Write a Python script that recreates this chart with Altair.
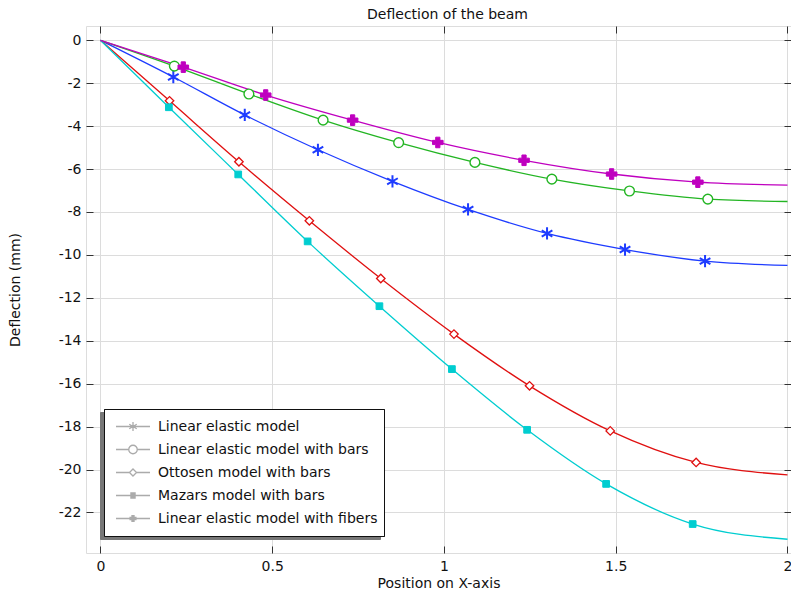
import altair as alt
import pandas as pd

FONT = "DejaVu Sans"
TEXT = "#111111"

SERIES = [
    "Linear elastic model",
    "Linear elastic model with bars",
    "Ottosen model with bars",
    "Mazars model with bars",
    "Linear elastic model with fibers",
]
COLORS = ["#1e3cff", "#23b523", "#e01010", "#00cdd0", "#bf00bf"]

# marker positions
blue_x = [0.212, 0.420, 0.633, 0.850, 1.070, 1.300, 1.527, 1.760]
blue_y = [-1.71, -3.48, -5.10, -6.57, -7.88, -9.00, -9.75, -10.29]
blue_end = -10.49

green_x = [0.215, 0.432, 0.648, 0.868, 1.090, 1.314, 1.540, 1.768]
green_y = [-1.20, -2.50, -3.72, -4.77, -5.69, -6.47, -7.02, -7.40]
green_end = -7.51

red_x = [0.201, 0.403, 0.608, 0.816, 1.029, 1.249, 1.484, 1.734]
red_y = [-2.82, -5.66, -8.41, -11.10, -13.69, -16.10, -18.20, -19.67]
red_end = -20.25

cyan_x = [0.199, 0.401, 0.603, 0.812, 1.023, 1.242, 1.472, 1.724]
cyan_y = [-3.12, -6.25, -9.37, -12.39, -15.32, -18.15, -20.67, -22.54]
cyan_end = -23.25

mag_x = [0.241, 0.481, 0.734, 0.982, 1.233, 1.488, 1.739]
mag_y = [-1.25, -2.55, -3.72, -4.76, -5.59, -6.23, -6.61]
mag_end = -6.75

X_START = 0.0
Y_START = 0.0
X_END = 2.0

X_TICKS = [0, 0.5, 1, 1.5, 2]
Y_TICKS = [0, -2, -4, -6, -8, -10, -12, -14, -16, -18, -20, -22]

groups = [
    (SERIES[0], blue_x, blue_y, blue_end),
    (SERIES[1], green_x, green_y, green_end),
    (SERIES[2], red_x, red_y, red_end),
    (SERIES[3], cyan_x, cyan_y, cyan_end),
    (SERIES[4], mag_x, mag_y, mag_end),
]

line_rows, mark_rows = [], []
for name, xs, ys, yend in groups:
    line_rows.append({"series": name, "x": X_START, "y": Y_START})
    for xv, yv in zip(xs, ys):
        line_rows.append({"series": name, "x": xv, "y": yv})
        mark_rows.append({"series": name, "x": xv, "y": yv})
    line_rows.append({"series": name, "x": X_END, "y": yend})

df_line = pd.DataFrame(line_rows)
df_mark = pd.DataFrame(mark_rows)

W, H = 705, 527
xscale = alt.Scale(domain=[-0.0422, 2.0102], nice=False, zero=False)
yscale = alt.Scale(domain=[-23.89, 0.667], nice=False, zero=False)
stroke_scale = alt.Scale(domain=SERIES, range=COLORS)

ASTERISK = "M0,-1L0,1M-0.87,-0.5L0.87,0.5M-0.87,0.5L0.87,-0.5"
# marker style per series
MARKER_STYLE = [
    dict(shape=ASTERISK, size=150, filled=False, strokeWidth=2.0),
    dict(shape="circle", size=95, filled=True, fill="white", strokeWidth=1.4),
    dict(shape="diamond", size=72, filled=True, fill="white", strokeWidth=1.3),
    dict(shape="square", size=45, filled=True, fill=COLORS[3], strokeWidth=1.0),
    dict(shape="cross", size=112, filled=True, fill=COLORS[4], strokeWidth=1.0),
]


def hlines(x0, x1, ys):
    return "".join("M%.3f,%.3fL%.3f,%.3f" % (x0, y, x1, y) for y in ys)


def vlines(y0, y1, xs):
    return "".join("M%.3f,%.3fL%.3f,%.3f" % (x, y0, x, y1) for x in xs)


LEGEND_PATHS = [
    "M-1,0L1,0M0,-0.26L0,0.26M-0.22,-0.13L0.22,0.13M-0.22,0.13L0.22,-0.13",
    "M-1,0L-0.25,0M0.25,0L1,0M0.25,0A0.25,0.25 0 1,1 -0.25,0A0.25,0.25 0 1,1 0.25,0Z",
    "M-1,0L-0.21,0M0.21,0L1,0M0,-0.21L0.21,0L0,0.21L-0.21,0Z",
    "M-1,0L1,0" + hlines(-0.16, 0.16, [-0.15, -0.09, -0.03, 0.03, 0.09, 0.15]),
    "M-1,0L1,0" + hlines(-0.21, 0.21, [-0.06, 0.06]) + vlines(-0.21, 0.21, [-0.06, 0.0, 0.06]),
]

label_expr = "'' + datum.value"
TICK = dict(ticks=True, tickSize=7, tickColor="#333333", tickWidth=1, labels=False,
            grid=False, domain=False, title=None)

x_axis_main = alt.Axis(
    orient="bottom", values=X_TICKS, labelExpr=label_expr, labelFont=FONT, labelFontSize=14,
    labelColor=TEXT, labelPadding=6, labelFlush=False, grid=True, gridColor="#dcdcdc", gridWidth=1,
    domain=False, ticks=False,
    title="Position on X-axis", titleFont=FONT, titleFontSize=14, titleFontWeight="normal",
    titleColor=TEXT, titlePadding=3,
)
y_axis_main = alt.Axis(
    orient="left", values=Y_TICKS, labelExpr=label_expr, labelFont=FONT, labelFontSize=14,
    labelColor=TEXT, labelPadding=5, labelFlush=False, grid=True, gridColor="#dcdcdc", gridWidth=1,
    domain=False, ticks=False,
    title="Deflection (mm)", titleFont=FONT, titleFontSize=14, titleFontWeight="normal",
    titleColor=TEXT, titlePadding=36,
)
# inward ticks: axes moved to the opposite side so their outward ticks point into the plot
x_ticks_bottom = alt.Axis(orient="top", offset=-H, values=X_TICKS, **TICK)
y_ticks_left = alt.Axis(orient="right", offset=-W, values=Y_TICKS, **TICK)
x_ticks_top = alt.Axis(orient="bottom", offset=-H, values=X_TICKS, **TICK)
y_ticks_right = alt.Axis(orient="left", offset=-W, values=Y_TICKS, **TICK)

lines = alt.Chart(df_line).mark_line(interpolate="monotone", strokeWidth=1.3).encode(
    x=alt.X("x:Q", scale=xscale, axis=x_axis_main),
    y=alt.Y("y:Q", scale=yscale, axis=y_axis_main),
    stroke=alt.Stroke("series:N", scale=stroke_scale, legend=None),
    detail="series:N",
)

marker_layers = []
for i, (name, style) in enumerate(zip(SERIES, MARKER_STYLE)):
    xa = x_ticks_bottom if i == 0 else None
    ya = y_ticks_left if i == 0 else None
    marker_layers.append(
        alt.Chart(df_mark)
        .transform_filter(alt.datum.series == name)
        .mark_point(opacity=1, **style)
        .encode(
            x=alt.X("x:Q", scale=xscale, axis=xa),
            y=alt.Y("y:Q", scale=yscale, axis=ya),
            stroke=alt.Stroke("series:N", scale=stroke_scale, legend=None),
        )
    )

legend_common = dict(
    title=None, labelFont=FONT, labelFontSize=14, symbolSize=1156, clipHeight=23,
    padding=6, rowPadding=0, symbolOffset=5, labelOffset=7, symbolStrokeWidth=1.3,
    labelLimit=400, labelExpr="datum.label + ' '",
)
main_legend = alt.Legend(
    orient="none", legendX=18, legendY=383, fillColor="white", strokeColor="#111111",
    labelColor=TEXT, **legend_common,
)

legend_layer = alt.Chart(df_mark).transform_filter("datum.x > 100").mark_point(
    filled=False, strokeWidth=1.3
).encode(
    x=alt.X("x:Q", scale=xscale, axis=x_ticks_top),
    y=alt.Y("y:Q", scale=yscale, axis=y_ticks_right),
    color=alt.Color("series:N", scale=alt.Scale(domain=SERIES, range=COLORS), legend=main_legend),
    shape=alt.Shape("series:N", scale=alt.Scale(domain=SERIES, range=LEGEND_PATHS), legend=main_legend),
)

shadow_layer = alt.Chart(df_mark).transform_filter("datum.x > 100").mark_line().encode(
    strokeDash=alt.StrokeDash(
        "series:N",
        scale=alt.Scale(domain=SERIES),
        legend=alt.Legend(
            orient="bottom-left", offset=14, fillColor="#777777", strokeColor="#777777",
            labelOpacity=0, symbolOpacity=0, **legend_common,
        ),
    ),
)

chart = (
    alt.layer(shadow_layer, lines, *marker_layers, legend_layer)
    .resolve_axis(x="independent", y="independent")
    .properties(
        width=W,
        height=H,
        title=alt.TitleParams(
            "Deflection of the beam", font=FONT, fontSize=14, fontWeight="normal",
            color=TEXT, anchor="middle", offset=3.5, dx=9,
        ),
        autosize=alt.AutoSizeParams(type="none"),
        padding={"left": 78, "top": 18, "right": 0, "bottom": 38},
    )
    .configure_view(stroke="#222222", strokeWidth=1.5)
    .configure_legend(strokeWidth=1.5)
    .configure(background="white")
)

chart.save("out.html", embed_options={"renderer": "svg", "actions": False})
